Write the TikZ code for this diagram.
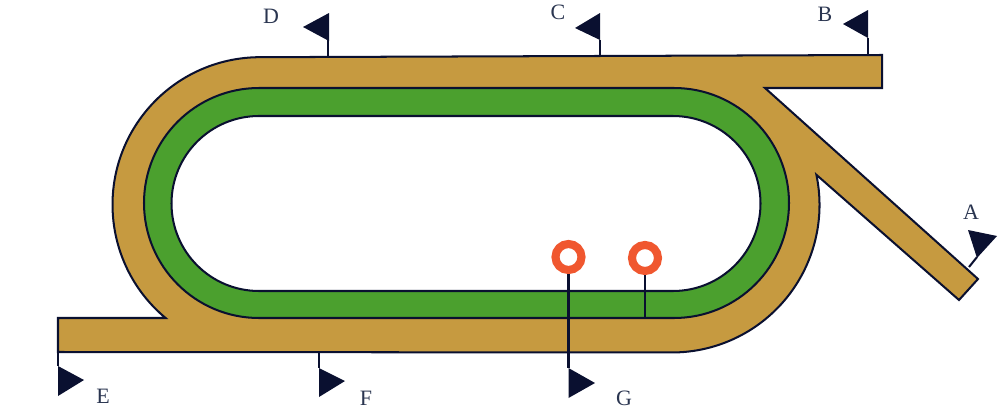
\documentclass[tikz,border=0pt]{standalone}
\usepackage{fontspec}
\setmainfont{Liberation Serif}
\definecolor{trackbrown}{HTML}{C69A40}
\definecolor{trackgreen}{HTML}{4BA02E}
\definecolor{inkdark}{HTML}{0A1030}
\definecolor{ringred}{HTML}{F0572F}
\definecolor{lettercol}{HTML}{2A3550}
\tikzset{
  x=0.02cm,y=0.02cm,
  trackline/.style={draw=inkdark,line width=1.15pt,line join=miter},
  poleline/.style={draw=inkdark,line width=1.15pt},
  flagtri/.style={fill=inkdark,draw=none},
  ringmark/.style={circle,draw=ringred,fill=white,line width=4.6pt,minimum size=0.52cm,inner sep=0pt},
  letter/.style={text=lettercol,font=\fontsize{12.5}{14}\selectfont,inner sep=0pt}
}
\begin{document}
\begin{tikzpicture}
\useasboundingbox (0,0) rectangle (1000,410);
% track
\draw[trackline,fill=trackbrown]
  (58,92) -- (165.6,92) arc[start angle=230.2,end angle=90,radius=147.5]
  -- (882,355) -- (882,322) -- (765,322) -- (978,131) -- (959,110)
  -- (816.4,235.2) arc[start angle=11.8,end angle=-90,radius=147.5]
  -- (58,58) -- cycle;
% turf
\draw[trackline,fill=trackgreen]
  (259,322) -- (674,322) arc[start angle=90,end angle=-90,radius=115]
  -- (259,92) arc[start angle=270,end angle=90,radius=115] -- cycle;
% infield
\draw[trackline,fill=white]
  (259,294) -- (673,294) arc[start angle=90,end angle=-90,radius=87.5]
  -- (259,119) arc[start angle=270,end angle=90,radius=87.5] -- cycle;
% rings and posts
\node[ringmark] (r1) at (568.5,153) {};
\node[ringmark] (r2) at (645,152) {};
\coordinate (g) at (568.5,42);
\coordinate (r2foot) at (645,92);
\draw[poleline] (r1.south) -- (g);
\draw[poleline] (r2.south) -- (r2foot);
% flags
\coordinate (dp) at (328,353);
\draw[poleline] (dp) -- (328,370);
\fill[flagtri] (329,397) -- (303,383) -- (329,369) -- cycle;
\coordinate (cp) at (600,354);
\draw[poleline] (cp) -- (600,370);
\fill[flagtri] (600,397) -- (575,382) -- (600,370) -- cycle;
\coordinate (bp) at (868,355);
\draw[poleline] (bp) -- (868,372);
\fill[flagtri] (868,400) -- (843,386) -- (868,372) -- cycle;
\coordinate (ap) at (969,143);
\draw[poleline] (ap) -- (977,153);
\fill[flagtri] (968,180) -- (997,174) -- (977,152) -- cycle;
\coordinate (ep) at (58,58);
\draw[poleline] (ep) -- (58,44);
\fill[flagtri] (58,44) -- (84,30) -- (58,14) -- cycle;
\coordinate (fp) at (319,58);
\draw[poleline] (fp) -- (319,42);
\fill[flagtri] (319,42) -- (345,29) -- (319,13) -- cycle;
\fill[flagtri] (568.5,42) -- (595,27) -- (568.5,12) -- cycle;
% letters
\node[letter] (la) at (971,198) {A};
\node[letter] (lb) at (825,396) {B};
\node[letter] (lc) at (558,398) {C};
\node[letter] (ld) at (271,394) {D};
\node[letter] (le) at (103,14) {E};
\node[letter] (lf) at (366,12) {F};
\node[letter] (lg) at (624,12) {G};
\end{tikzpicture}
\end{document}
